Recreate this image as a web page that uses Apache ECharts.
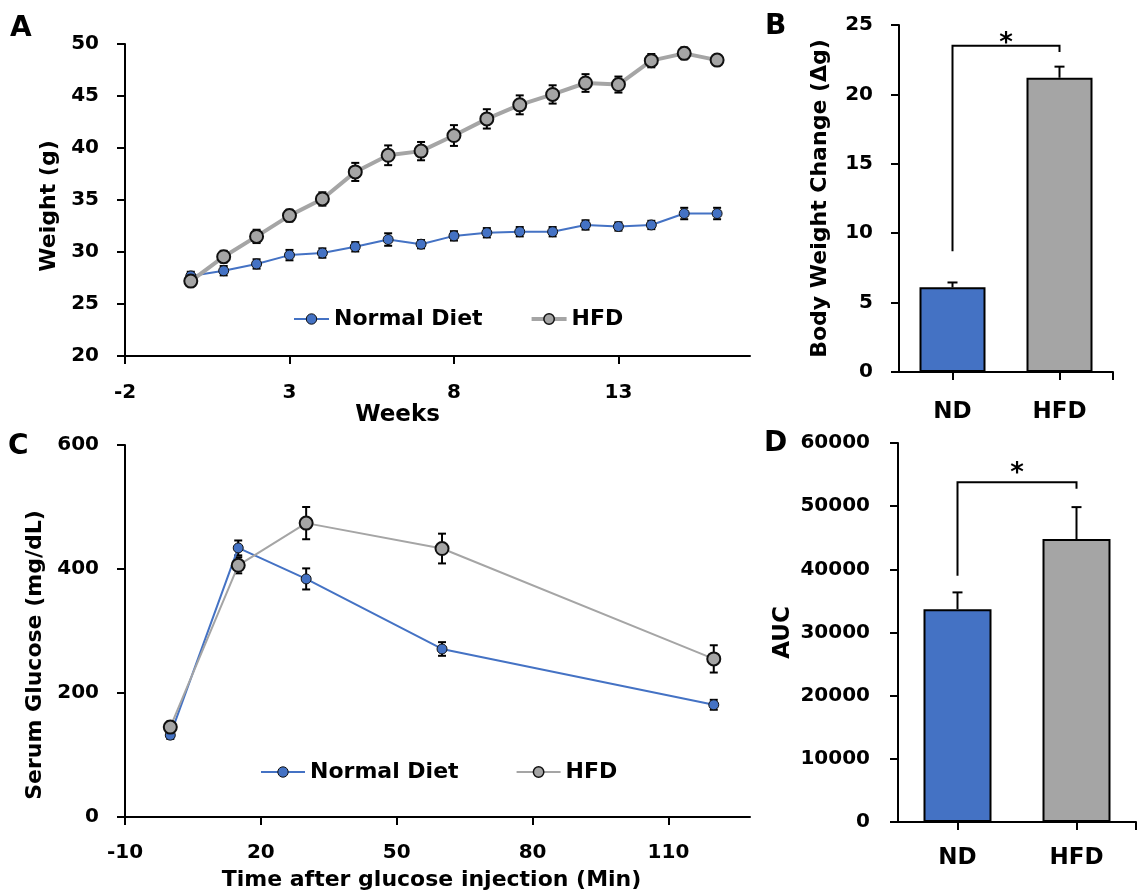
<!DOCTYPE html>
<html><head><meta charset="utf-8">
<script src="https://cdn.jsdelivr.net/npm/echarts@6/dist/echarts.min.js"></script>
<style>html,body{margin:0;padding:0;background:#fff}#c{width:1144px;height:896px}</style>
</head><body><div id="c"></div>
<script>
// ---- data ----
const weeks = [0,1,2,3,4,5,6,7,8,9,10,11,12,13,14,15,16];
const ndWeight = [27.7,28.2,28.85,29.7,29.9,30.5,31.2,30.75,31.55,31.85,31.95,31.95,32.6,32.45,32.6,33.7,33.7];
const ndWeightErr = [0.4,0.45,0.45,0.5,0.45,0.45,0.6,0.4,0.45,0.45,0.45,0.45,0.45,0.4,0.4,0.55,0.55];
const hfdWeight = [27.2,29.55,31.5,33.5,35.1,37.7,39.3,39.7,41.2,42.8,44.15,45.15,46.25,46.1,48.4,49.1,48.45];
const hfdWeightErr = [0.4,0.56,0.64,0.56,0.64,0.87,0.95,0.88,1.0,0.93,0.91,0.88,0.85,0.77,0.64,0.56,0.48];
const weekTicks = [-2,3,8,13];

const times = [0,15,30,60,120];
const ndGlucose = [132,434,384,271,181];
const ndGlucoseErr = [6,12,17,11,8];
const hfdGlucose = [145,406,474,433,255];
const hfdGlucoseErr = [9,13,26,24,22];
const timeTicks = [-10,20,50,80,110];

const groups = ['ND','HFD'];
const bwChange = [6.1,21.2];
const bwChangeErr = [0.35,0.8];
const auc = [33700,44800];
const aucErr = [2650,5050];
// bracket: [left foot, top, right foot, asterisk]
const bracketB = [8.7,23.5,23.05,23.9];
const bracketD = [39000,53800,52750,55760];

const seriesNames = ['Normal Diet','HFD'];

// ---- style ----
const FONT = 'DejaVu Sans';
const BLUE = '#4472C4', GREY = '#A5A5A5', INK = '#000';
const groupColors = [BLUE, GREY];
const catPos = groups.map((g,i)=>i+0.5);

function axisLineStyle(){ return {show:true, onZero:false, lineStyle:{color:INK, width:2}}; }
function tickStyle(custom){ const t = {show:true, length:8, lineStyle:{color:INK, width:2}}; if(custom) t.customValues = custom; return t; }
function labelStyle(margin, size, extra){ return Object.assign({color:INK, fontFamily:FONT, fontWeight:'bold', fontSize:size||20, margin:margin, formatter:function(v){return String(v);}}, extra||{}); }
function nameStyle(size, padding){ return {color:INK, fontFamily:FONT, fontWeight:'bold', fontSize:size, padding:padding||0}; }

function errorSeries(xs, ys, es, xi, capHalf, upOnly, z){
  return {
    type:'custom', xAxisIndex:xi, yAxisIndex:xi, z:z, silent:true, animation:false,
    data: xs.map((x,i)=>[x, ys[i], es[i]]),
    encode:{x:0, y:1},
    renderItem:function(params, api){
      const x = api.value(0), y = api.value(1), e = api.value(2);
      const top = api.coord([x, y+e]);
      const bot = api.coord([x, upOnly ? y : y-e]);
      const st = {stroke:INK, lineWidth:2};
      const ch = [
        {type:'line', shape:{x1:top[0], y1:top[1], x2:bot[0], y2:bot[1]}, style:st},
        {type:'line', shape:{x1:top[0]-capHalf, y1:top[1], x2:top[0]+capHalf, y2:top[1]}, style:st}
      ];
      if(!upOnly) ch.push({type:'line', shape:{x1:bot[0]-capHalf, y1:bot[1], x2:bot[0]+capHalf, y2:bot[1]}, style:st});
      return {type:'group', children:ch};
    }
  };
}

function bracketSeries(b, xi){
  return {
    type:'custom', xAxisIndex:xi, yAxisIndex:xi, z:5, silent:true, animation:false,
    data:[[catPos[0], catPos[1], b[0], b[1], b[2], b[3]]],
    encode:{x:[0,1], y:[2,3,4,5]},
    renderItem:function(params, api){
      const x1 = api.value(0), x2 = api.value(1);
      const p1 = api.coord([x1, api.value(2)]);
      const p2 = api.coord([x1, api.value(3)]);
      const p3 = api.coord([x2, api.value(3)]);
      const p4 = api.coord([x2, api.value(4)]);
      const s = api.coord([(x1+x2)/2, api.value(5)]);
      return {type:'group', children:[
        {type:'polyline', shape:{points:[p1,p2,p3,p4]}, style:{stroke:INK, lineWidth:2, fill:null}},
        {type:'text', x:s[0], y:s[1]+4, style:{text:'*', fontFamily:FONT, fontWeight:'bold', fontSize:26, fill:INK, textAlign:'center', textVerticalAlign:'middle'}}
      ]};
    }
  };
}

function barSeries(vals, xi, width){
  return {
    type:'bar', xAxisIndex:xi, yAxisIndex:xi, barWidth:width, z:2, animation:false,
    data: vals.map((v,i)=>({value:[catPos[i], v], itemStyle:{color:groupColors[i], borderColor:INK, borderWidth:2}}))
  };
}

function lineSeries(name, xs, ys, xi, color, lw, size, bw){
  return {
    type:'line', name:name, xAxisIndex:xi, yAxisIndex:xi, z:3, animation:false,
    data: xs.map((x,i)=>[x, ys[i]]),
    symbol:'circle', symbolSize:size, showSymbol:true,
    lineStyle:{color:color, width:lw},
    itemStyle:{color:color, borderColor:'#111', borderWidth:bw}
  };
}

const chart = echarts.init(document.getElementById('c'), null, {renderer:'canvas'});
const legendText = {color:INK, fontFamily:FONT, fontWeight:'bold', fontSize:22, lineHeight:24};
const catFormatter = function(v){ return groups[Math.floor(v)]; };
function legendItems(hfdWidth){
  return [
    {name:seriesNames[0], lineStyle:{color:BLUE, width:2}, itemStyle:{color:BLUE, borderColor:'#111', borderWidth:1}},
    {name:seriesNames[1], lineStyle:{color:GREY, width:hfdWidth}, itemStyle:{color:GREY, borderColor:'#111', borderWidth:1.5}}
  ];
}

chart.setOption({
  backgroundColor:'#fff',
  animation:false,
  grid:[
    {left:125, top:44, width:625, height:312},
    {left:899, top:25, width:214, height:347},
    {left:125, top:445, width:625, height:372},
    {left:898, top:443, width:238, height:379}
  ],
  xAxis:[
    {gridIndex:0, type:'value', min:-2, max:17, splitLine:{show:false}, axisLine:axisLineStyle(),
     axisTick:tickStyle(weekTicks), axisLabel:labelStyle(27, 20, {customValues:weekTicks}),
     name:'Weeks', nameLocation:'middle', nameGap:46, nameTextStyle:nameStyle(23,[0,80,0,0])},
    {gridIndex:1, type:'value', min:0, max:2, splitLine:{show:false}, axisLine:axisLineStyle(),
     axisTick:tickStyle(catPos.concat([groups.length])),
     axisLabel:labelStyle(29, 23, {customValues:catPos, formatter:catFormatter})},
    {gridIndex:2, type:'value', min:-10, max:128, splitLine:{show:false}, axisLine:axisLineStyle(),
     axisTick:tickStyle(timeTicks), axisLabel:labelStyle(26, 20, {customValues:timeTicks}),
     name:'Time after glucose injection (Min)', nameLocation:'middle', nameGap:52, nameTextStyle:nameStyle(22,[0,12,0,0])},
    {gridIndex:3, type:'value', min:0, max:2, splitLine:{show:false}, axisLine:axisLineStyle(),
     axisTick:tickStyle(catPos.concat([groups.length])),
     axisLabel:labelStyle(25, 23, {customValues:catPos, formatter:catFormatter})}
  ],
  yAxis:[
    {gridIndex:0, type:'value', min:20, max:50, interval:5, splitLine:{show:false}, axisLine:axisLineStyle(),
     axisTick:tickStyle(), axisLabel:labelStyle(26),
     name:'Weight (g)', nameLocation:'middle', nameGap:64, nameTextStyle:nameStyle(22,[0,12,0,0])},
    {gridIndex:1, type:'value', min:0, max:25, interval:5, splitLine:{show:false}, axisLine:axisLineStyle(),
     axisTick:tickStyle(), axisLabel:labelStyle(26),
     name:'Body Weight Change (Δg)', nameLocation:'middle', nameGap:68, nameTextStyle:nameStyle(22)},
    {gridIndex:2, type:'value', min:0, max:600, interval:200, splitLine:{show:false}, axisLine:axisLineStyle(),
     axisTick:tickStyle(), axisLabel:labelStyle(26),
     name:'Serum Glucose (mg/dL)', nameLocation:'middle', nameGap:72, nameTextStyle:nameStyle(22,[0,48,0,0])},
    {gridIndex:3, type:'value', min:0, max:60000, interval:10000, splitLine:{show:false}, axisLine:axisLineStyle(),
     axisTick:tickStyle(), axisLabel:labelStyle(28),
     name:'AUC', nameLocation:'middle', nameGap:103, nameTextStyle:nameStyle(23)}
  ],
  legend:[
    {left:293, top:307, padding:0, itemWidth:35, itemHeight:13, itemGap:47, data:legendItems(4), textStyle:legendText, selectedMode:false},
    {left:260, top:760, padding:0, itemWidth:44, itemHeight:13, itemGap:57, data:legendItems(2), textStyle:legendText, selectedMode:false}
  ],
  graphic:[
    {type:'text', left:10, top:15, style:{text:'A', fontFamily:FONT, fontWeight:'bold', fontSize:28, fill:INK}},
    {type:'text', left:765, top:13, style:{text:'B', fontFamily:FONT, fontWeight:'bold', fontSize:28, fill:INK}},
    {type:'text', left:8, top:433, style:{text:'C', fontFamily:FONT, fontWeight:'bold', fontSize:28, fill:INK}},
    {type:'text', left:764, top:430, style:{text:'D', fontFamily:FONT, fontWeight:'bold', fontSize:28, fill:INK}}
  ],
  series:[
    errorSeries(weeks, ndWeight, ndWeightErr, 0, 4, false, 1),
    errorSeries(weeks, hfdWeight, hfdWeightErr, 0, 4, false, 1),
    lineSeries(seriesNames[0], weeks, ndWeight, 0, BLUE, 2, 10, 1),
    lineSeries(seriesNames[1], weeks, hfdWeight, 0, GREY, 4, 13, 2),
    errorSeries(times, ndGlucose, ndGlucoseErr, 2, 4, false, 1),
    errorSeries(times, hfdGlucose, hfdGlucoseErr, 2, 4, false, 1),
    lineSeries(seriesNames[0], times, ndGlucose, 2, BLUE, 2, 10, 1),
    lineSeries(seriesNames[1], times, hfdGlucose, 2, GREY, 2, 13, 2),
    barSeries(bwChange, 1, 66),
    errorSeries(catPos, bwChange, bwChangeErr, 1, 5, true, 3),
    bracketSeries(bracketB, 1),
    barSeries(auc, 3, 68),
    errorSeries(catPos, auc, aucErr, 3, 5, true, 3),
    bracketSeries(bracketD, 3)
  ]
});
</script>
</body></html>
